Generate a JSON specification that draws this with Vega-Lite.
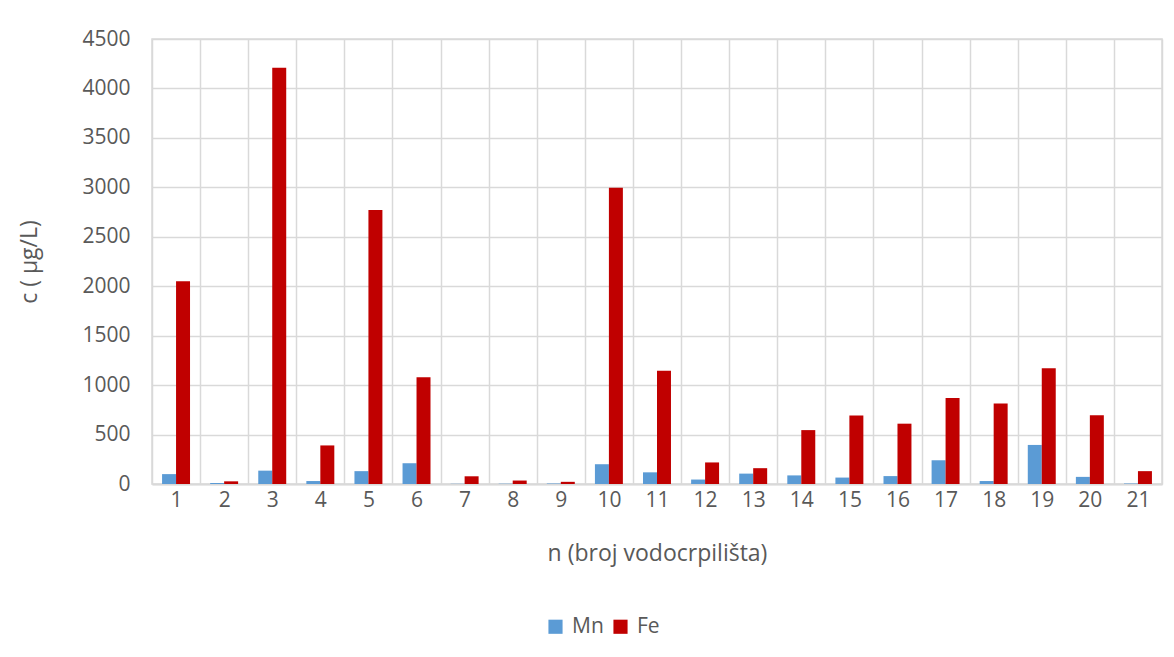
{
  "$schema": "https://vega.github.io/schema/vega-lite/v6.json",
  "autosize": {"type": "none"},
  "width": 1010,
  "height": 445,
  "padding": {"left": 152, "top": 39, "right": 12, "bottom": 173},
  "background": "white",
  "config": {
    "font": "Open Sans",
    "view": {"stroke": "#d9d9d9", "strokeWidth": 1.5}
  },
  "data": {
    "values": [
      {"n": 1, "el": "Mn", "c": 100}, {"n": 1, "el": "Fe", "c": 2050},
      {"n": 2, "el": "Mn", "c": 10}, {"n": 2, "el": "Fe", "c": 27},
      {"n": 3, "el": "Mn", "c": 135}, {"n": 3, "el": "Fe", "c": 4210},
      {"n": 4, "el": "Mn", "c": 30}, {"n": 4, "el": "Fe", "c": 390},
      {"n": 5, "el": "Mn", "c": 130}, {"n": 5, "el": "Fe", "c": 2770},
      {"n": 6, "el": "Mn", "c": 210}, {"n": 6, "el": "Fe", "c": 1080},
      {"n": 7, "el": "Mn", "c": 2}, {"n": 7, "el": "Fe", "c": 78},
      {"n": 8, "el": "Mn", "c": 3}, {"n": 8, "el": "Fe", "c": 35},
      {"n": 9, "el": "Mn", "c": 5}, {"n": 9, "el": "Fe", "c": 22},
      {"n": 10, "el": "Mn", "c": 200}, {"n": 10, "el": "Fe", "c": 2995},
      {"n": 11, "el": "Mn", "c": 118}, {"n": 11, "el": "Fe", "c": 1145},
      {"n": 12, "el": "Mn", "c": 45}, {"n": 12, "el": "Fe", "c": 218},
      {"n": 13, "el": "Mn", "c": 105}, {"n": 13, "el": "Fe", "c": 160},
      {"n": 14, "el": "Mn", "c": 87}, {"n": 14, "el": "Fe", "c": 545},
      {"n": 15, "el": "Mn", "c": 65}, {"n": 15, "el": "Fe", "c": 693},
      {"n": 16, "el": "Mn", "c": 80}, {"n": 16, "el": "Fe", "c": 610},
      {"n": 17, "el": "Mn", "c": 240}, {"n": 17, "el": "Fe", "c": 870},
      {"n": 18, "el": "Mn", "c": 30}, {"n": 18, "el": "Fe", "c": 815},
      {"n": 19, "el": "Mn", "c": 395}, {"n": 19, "el": "Fe", "c": 1170},
      {"n": 20, "el": "Mn", "c": 72}, {"n": 20, "el": "Fe", "c": 695},
      {"n": 21, "el": "Mn", "c": 5}, {"n": 21, "el": "Fe", "c": 130}
    ]
  },
  "mark": {"type": "bar"},
  "encoding": {
    "x": {
      "field": "n",
      "type": "ordinal",
      "scale": {"paddingInner": 0, "paddingOuter": 0},
      "axis": {
        "title": "n (broj vodocrpilišta)",
        "titleFont": "Open Sans",
        "titleFontSize": 23,
        "titleFontWeight": "normal",
        "titleColor": "#595959",
        "titlePadding": 32,
        "labelAngle": 0,
        "labelFontSize": 21,
        "labelColor": "#595959",
        "labelPadding": 5,
        "ticks": false,
        "grid": true,
        "gridColor": "#d9d9d9",
        "gridWidth": 1.5,
        "tickBand": "extent",
        "domainColor": "#d9d9d9",
        "domainWidth": 2
      }
    },
    "xOffset": {
      "field": "el",
      "type": "nominal",
      "sort": ["Mn", "Fe"],
      "scale": {"paddingInner": 0, "paddingOuter": 0.72}
    },
    "y": {
      "field": "c",
      "type": "quantitative",
      "scale": {"domain": [0, 4500]},
      "axis": {
        "title": "c ( μg/L)",
        "titleFont": "Open Sans",
        "titleFontSize": 23,
        "titleFontWeight": "normal",
        "titleColor": "#595959",
        "titlePadding": 40,
        "format": "d",
        "values": [0, 500, 1000, 1500, 2000, 2500, 3000, 3500, 4000, 4500],
        "labelFontSize": 21,
        "labelColor": "#595959",
        "labelPadding": 22,
        "ticks": false,
        "domain": false,
        "grid": true,
        "gridColor": "#d9d9d9",
        "gridWidth": 1.5
      }
    },
    "color": {
      "field": "el",
      "type": "nominal",
      "sort": ["Mn", "Fe"],
      "scale": {"domain": ["Mn", "Fe"], "range": ["#5b9bd5", "#c00000"]},
      "legend": {
        "title": null,
        "orient": "none",
        "direction": "horizontal",
        "legendX": 393,
        "legendY": 577,
        "symbolType": "square",
        "symbolSize": 200,
        "symbolStrokeWidth": 0,
        "labelFontSize": 21,
        "labelColor": "#595959",
        "labelOffset": 6,
        "columnPadding": 6
      }
    }
  }
}
